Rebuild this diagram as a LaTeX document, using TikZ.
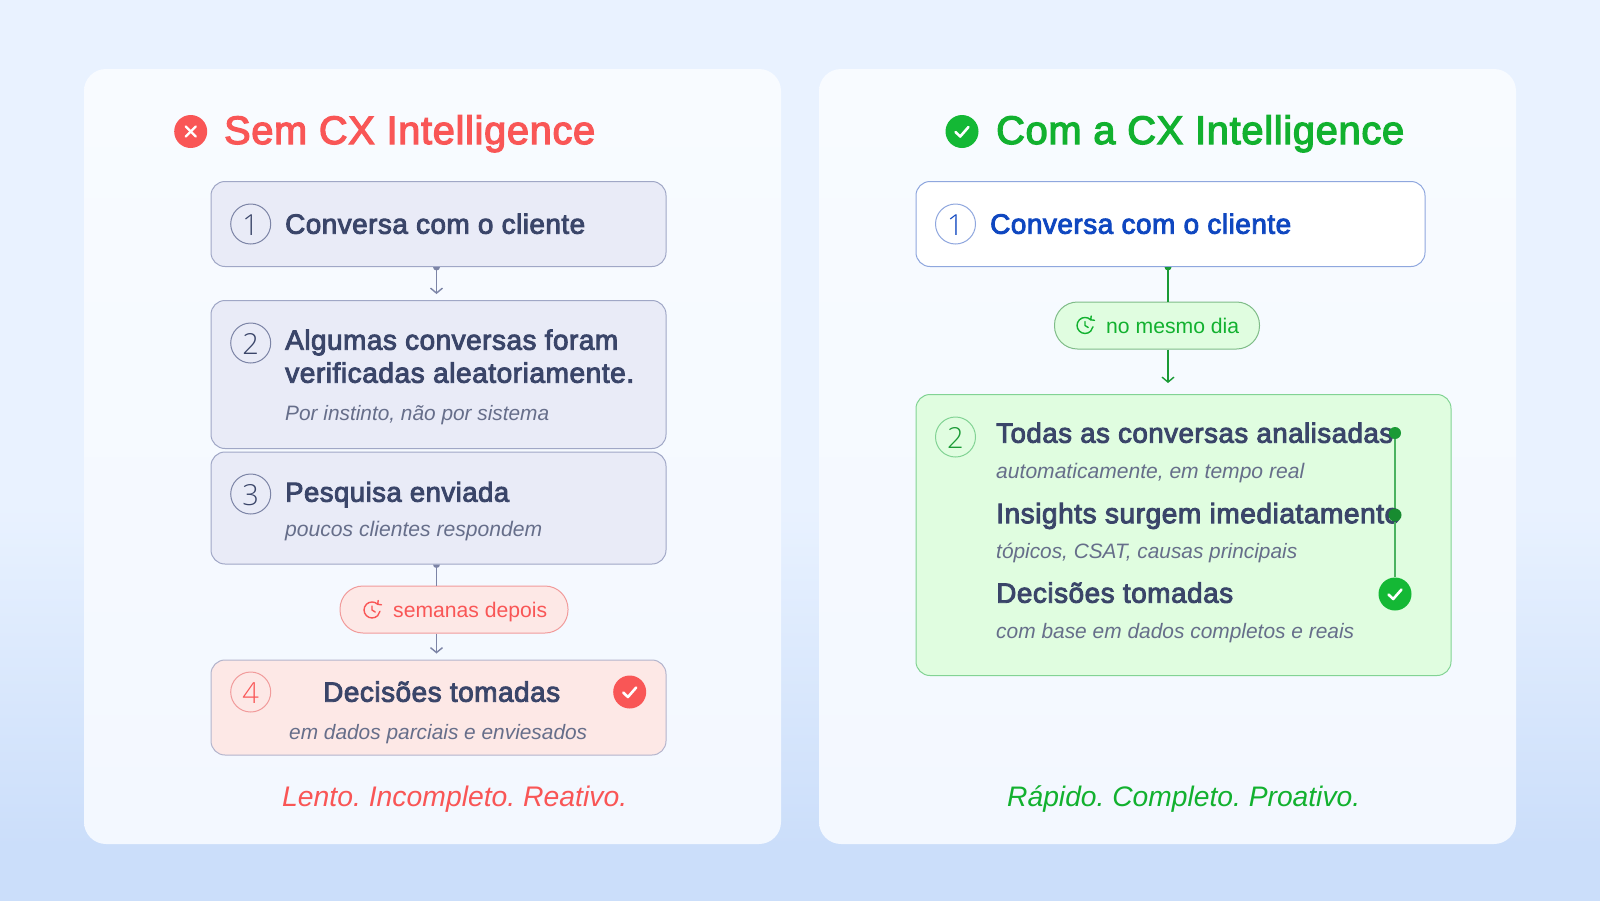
\documentclass[tikz,border=0pt]{standalone}
\usepackage{fontspec}
\usepackage{graphicx}
\usetikzlibrary{arrows.meta}
\setmainfont{Liberation Sans}
\newfontfamily\hdf{Liberation Sans}[FakeBold=3.2,LetterSpace=1.8]
\newfontfamily\numf{Open Sans Light}
\definecolor{bgtop}{HTML}{E9F2FF}
\definecolor{bgbot}{HTML}{CBDEFA}
\definecolor{paneltop}{HTML}{F8FBFF}
\definecolor{panelbot}{HTML}{F3F8FF}
\definecolor{redc}{HTML}{F95656}
\definecolor{greenc}{HTML}{12B12F}
\definecolor{greenb}{HTML}{14B835}
\definecolor{greend}{HTML}{1A9A35}
\definecolor{navy}{HTML}{3A4569}
\definecolor{subc}{HTML}{666E8A}
\definecolor{bluec}{HTML}{0F47C0}
\definecolor{boxf}{HTML}{E9EBF7}
\definecolor{boxd}{HTML}{A0A7C6}
\definecolor{redf}{HTML}{FDE8E6}
\definecolor{redd}{HTML}{F19B9B}
\definecolor{greenf}{HTML}{E0FDE0}
\definecolor{greene}{HTML}{82D394}
\definecolor{pilld}{HTML}{7FBC88}
\definecolor{blued}{HTML}{8FA7DE}
\definecolor{linec}{HTML}{7C84A6}
\pgfdeclareverticalshading{bgshade}{100bp}{color(0bp)=(bgbot);color(28bp)=(bgbot);color(47bp)=(bgtop);color(100bp)=(bgtop)}
\newcommand{\tw}[2]{\resizebox{#1pt}{!}{#2}}
\newcommand{\hd}[2]{\raisebox{-0.7pt}{\tw{#1}{\fontsize{28}{30}\selectfont\hdf #2}}}
\newcommand{\sbt}[2]{\tw{#1}{\fontsize{20}{24}\selectfont\itshape #2}}
\newcommand{\chk}[1]{\draw[tick] ([shift={(-6.5,0.5)}]#1.center) -- ([shift={(-1.8,5)}]#1.center) -- ([shift={(6.5,-4.5)}]#1.center);}
\newcommand{\clk}[2]{%
  \draw[#2,line width=1.4pt,line cap=round] ([shift={(5.7,-5.7)}]#1.center) arc (-45:-350:8);
  \draw[#2,line width=1.4pt,line cap=round,line join=round] ([shift={(0,-4)}]#1.center) -- (#1.center) -- ([shift={(3.2,2)}]#1.center);
  \draw[#2,line width=1.4pt,line cap=round,line join=round] ([shift={(6.2,-9.5)}]#1.center) -- ([shift={(5.7,-5.7)}]#1.center) -- ([shift={(9.5,-5.2)}]#1.center);}
\tikzset{
  panel/.style={rounded corners=22pt,top color=paneltop,bottom color=panelbot},
  card/.style={draw=boxd,fill=boxf,line width=1pt,rounded corners=14pt,inner sep=0pt},
  pill/.style={rounded corners=23pt,line width=1pt,inner sep=0pt},
  num/.style={circle,draw=#1,line width=1pt,minimum size=40pt,inner sep=0pt},
  tx/.style={anchor=base west,inner sep=0pt,text=#1},
  badge/.style={circle,fill=#1,minimum size=33pt,inner sep=0pt},
  tick/.style={draw=white,line width=2.6pt,line cap=round,line join=round},
  flow/.style={line width=1.6pt,draw=#1},
  tip/.style={flow=#1,-{Straight Barb[length=5pt,width=12pt,line width=1.4pt]},shorten >=6pt},
}
\newcommand{\nm}[3]{\node[text=#2,inner sep=0pt] at ([yshift=-1pt]#1.center) {\fontsize{29}{30}\selectfont\numf #3};}
\frenchspacing
\begin{document}
\begin{tikzpicture}[x=1pt,y=-1pt]
\useasboundingbox (0,0) rectangle (1600,900);
\shade[shading=bgshade] (0,0) rectangle (1600,900);
\path[panel] (84,69) rectangle (781,844);
\path[panel] (819,69) rectangle (1516,844);

% left title
\node[badge=redc] (xb) at (190.7,131.5) {};
\draw[tick,line width=2.4pt] ([shift={(-5,-5)}]xb.center) -- ([shift={(5,5)}]xb.center);
\draw[tick,line width=2.4pt] ([shift={(-5,5)}]xb.center) -- ([shift={(5,-5)}]xb.center);
\node[tx=redc] (lt) at (224,144) {\tw{371}{\fontsize{38}{40}\selectfont\hdf Sem CX Intelligence}};

% left cards
\node[card,minimum width=455pt,minimum height=85pt] (b1) at (438.5,224) {};
\node[card,minimum width=455pt,minimum height=148pt] (b2) at (438.5,374.5) {};
\node[card,minimum width=455pt,minimum height=112pt] (b3) at (438.5,508) {};
\node[card,draw=boxd!80!redf,fill=redf,minimum width=455pt,minimum height=95pt] (b4) at (438.5,707.5) {};
\node[pill,draw=redd,fill=redf,minimum width=228pt,minimum height=47pt] (p1) at (454,609.5) {};
\coordinate (ax) at (436.5,0);

\draw[tip=linec] (b1.south -| ax) -- (b2.north -| ax);
\fill[linec] (b1.south -| ax) ++(-3.5,0) arc (180:0:3.5) -- cycle;
\draw[flow=linec] (b3.south -| ax) -- (p1.north -| ax);
\fill[linec] (b3.south -| ax) ++(-3.5,0) arc (180:0:3.5) -- cycle;
\draw[tip=linec] (p1.south -| ax) -- (b4.north -| ax);

\node[num=linec] (n1) at (250.7,224) {}; \nm{n1}{navy}{1}
\node[num=linec] (n2) at (250.7,343) {}; \nm{n2}{navy}{2}
\node[num=linec] (n3) at (250.7,494) {}; \nm{n3}{navy}{3}
\node[num=redd] (n4) at (250.7,692) {}; \nm{n4}{redc}{4}

\node[tx=navy] (t1) at (285,233) {\hd{300}{Conversa com o cliente}};
\node[tx=navy] (t2) at (285,349) {\hd{333}{Algumas conversas foram}};
\node[tx=navy] (t2b) at (285,382) {\hd{349}{verificadas aleatoriamente.}};
\node[tx=subc] (s2) at (285,420.5) {\sbt{264}{Por instinto, não por sistema}};
\node[tx=navy] (t3) at (285,501) {\hd{224}{Pesquisa enviada}};
\node[tx=subc] (s3) at (285,536.5) {\sbt{257}{poucos clientes respondem}};
\node[tx=navy] (t4) at (323,701) {\hd{237}{Decisões tomadas}};
\node[tx=subc] (s4) at (289,739.5) {\sbt{298}{em dados parciais e enviesados}};
\node[badge=redc] (c4) at (629.7,692) {}; \chk{c4}

\coordinate (k1) at (372,610);
\clk{k1}{redc}
\node[tx=redc] (pt1) at (393,617) {\tw{154}{\fontsize{22}{24}\selectfont semanas depois}};
\node[tx=redc] (f1) at (282,806.5) {\tw{345}{\fontsize{28}{30}\selectfont\itshape Lento. Incompleto. Reativo.}};

% right title
\node[badge=greenb] (vb) at (962,131.5) {}; \chk{vb}
\node[tx=greenc] (rt) at (996,144) {\tw{408}{\fontsize{38}{40}\selectfont\hdf Com a CX Intelligence}};

% right cards
\node[card,draw=blued,fill=white,minimum width=509pt,minimum height=85pt] (r1) at (1170.5,224) {};
\node[card,draw=greene,fill=greenf,minimum width=535pt,minimum height=281pt] (r2) at (1183.5,535) {};
\node[pill,draw=pilld,fill=greenf,minimum width=205pt,minimum height=47pt] (p2) at (1157,325.5) {};
\coordinate (bx) at (1168,0);
\draw[flow=greend] (r1.south -| bx) -- (p2.north -| bx);
\fill[greend] (r1.south -| bx) ++(-3.5,0) arc (180:0:3.5) -- cycle;
\draw[tip=greend,shorten >=11pt] (p2.south -| bx) -- (r2.north -| bx);

\node[num=blued] (m1) at (955.5,224) {}; \nm{m1}{bluec}{1}
\node[num=greene] (m2) at (955.5,437) {}; \nm{m2}{greend}{2}

\node[tx=bluec] (u1) at (990,233) {\hd{301}{Conversa com o cliente}};
\node[tx=navy] (u2) at (996,442) {\hd{397}{Todas as conversas analisadas}};
\node[tx=subc] (v2) at (996,478.5) {\sbt{308}{automaticamente, em tempo real}};
\node[tx=navy] (u3) at (996,522.5) {\hd{404}{Insights surgem imediatamente}};
\node[tx=subc] (v3) at (996,558.5) {\sbt{301}{tópicos, CSAT, causas principais}};
\node[tx=navy] (u4) at (996,602) {\hd{237}{Decisões tomadas}};
\node[tx=subc] (v4) at (996,638.5) {\sbt{358}{com base em dados completos e reais}};

\node[circle,fill=greend,minimum size=12pt,inner sep=0pt] (d1) at (1395,433) {};
\node[circle,fill=greend!90!black,minimum size=13pt,inner sep=0pt] (d2) at (1395,515) {};
\node[badge=greenb] (c2) at (1395,594) {}; \chk{c2}
\draw[line width=2pt,draw=greend!75!greenf] (d1) -- (d2);
\draw[line width=2pt,draw=greend!75!greenf] (d2) -- (c2);

\coordinate (k2) at (1085,325.5);
\clk{k2}{greenc}
\node[tx=greenc] (pt2) at (1106,333) {\tw{133}{\fontsize{22}{24}\selectfont no mesmo dia}};
\node[tx=greenc] (f2) at (1007,806.5) {\tw{353}{\fontsize{28}{30}\selectfont\itshape Rápido. Completo. Proativo.}};
\end{tikzpicture}
\end{document}
